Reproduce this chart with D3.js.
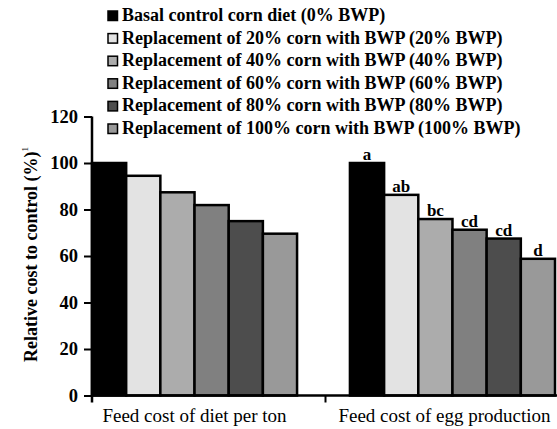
<!DOCTYPE html>
<html lang="en">
<head>
<meta charset="UTF-8">
<title>Relative cost to control</title>
<style>
  body { margin: 0; background: #fff; }
  svg text { font-family: "Liberation Serif", "Times New Roman", serif; fill: #000; }
</style>
</head>
<body>
<svg id="chart"></svg>
<script src="https://d3js.org/d3.v7.min.js"></script>
<script>
const categories = ['Feed cost of diet per ton', 'Feed cost of egg production'];
const treatments = ['0% BWP', '20% BWP', '40% BWP', '60% BWP', '80% BWP', '100% BWP'];
const legendLabels = [
  'Basal control corn diet (0% BWP)',
  'Replacement of 20% corn with BWP (20% BWP)',
  'Replacement of 40% corn with BWP (40% BWP)',
  'Replacement of 60% corn with BWP (60% BWP)',
  'Replacement of 80% corn with BWP (80% BWP)',
  'Replacement of 100% corn with BWP (100% BWP)'
];
const dietCost = [100, 94.5, 87.4, 81.9, 75, 69.6];
const eggCost = [100, 86.3, 75.9, 71.3, 67.5, 58.8];
const eggLetters = ['a', 'ab', 'bc', 'cd', 'cd', 'd'];
const yTicks = [0, 20, 40, 60, 80, 100, 120];
const colors = ['#000000', '#e3e3e3', '#acacac', '#808080', '#4d4d4d', '#999999'];

const width = 557, height = 429;
const svg = d3.select('#chart').attr('width', width).attr('height', height);

const x0 = d3.scaleBand().domain(categories).range([92, 555]).paddingInner(0.205).paddingOuter(0);
const x1 = d3.scaleBand().domain(treatments).range([0, x0.bandwidth()]);
const y = d3.scaleLinear().domain([0, 120]).range([395.5, 116.5]);

const series = [dietCost, eggCost];

// bars
categories.forEach((cat, ci) => {
  const g = svg.append('g').attr('transform', `translate(${x0(cat)},0)`);
  g.selectAll('rect')
    .data(series[ci])
    .enter().append('rect')
    .attr('x', (d, i) => x1(treatments[i]))
    .attr('y', d => y(d))
    .attr('width', x1.bandwidth())
    .attr('height', d => y(0) - y(d))
    .attr('fill', (d, i) => colors[i])
    .attr('stroke', '#000')
    .attr('stroke-width', 2.5);
});

// significance letters
svg.append('g').selectAll('text')
  .data(eggCost)
  .enter().append('text')
  .attr('x', (d, i) => x0(categories[1]) + x1(treatments[i]) + x1.bandwidth() / 2)
  .attr('y', d => y(d) - 3)
  .attr('text-anchor', 'middle')
  .attr('font-size', 17)
  .attr('font-weight', 'bold')
  .text((d, i) => eggLetters[i]);

// y axis
const yAxis = svg.append('g')
  .attr('transform', 'translate(92,0)')
  .call(d3.axisLeft(y).tickValues(yTicks).tickSize(8).tickPadding(6));
yAxis.select('.domain').attr('stroke', '#000').attr('stroke-width', 2.5)
  .attr('d', `M0,${y(120)}V${y(0) + 7}`);
yAxis.selectAll('.tick line').attr('stroke-width', 2);
yAxis.selectAll('.tick text')
  .attr('font-size', 18.5).attr('font-weight', 'bold')
  .attr('font-family', '"Liberation Serif", serif');

// x axis
const xAxis = svg.append('g').attr('transform', `translate(0,${y(0)})`);
xAxis.append('line')
  .attr('x1', 92).attr('x2', width)
  .attr('stroke', '#000').attr('stroke-width', 2.5);
const boundary = (x0(categories[0]) + x0.bandwidth() + x0(categories[1])) / 2 + 2;
xAxis.append('line')
  .attr('x1', boundary).attr('x2', boundary)
  .attr('y1', 0).attr('y2', 7)
  .attr('stroke', '#000').attr('stroke-width', 2);
xAxis.selectAll('.cat')
  .data(categories)
  .enter().append('text')
  .attr('class', 'cat')
  .attr('x', (d, i) => x0(d) + x0.bandwidth() / 2 - (i === 1 ? 8 : 0))
  .attr('y', 26)
  .attr('text-anchor', 'middle')
  .attr('font-size', 19)
  .text(d => d);

// y title
const yTitle = svg.append('text')
  .attr('transform', 'translate(37,362) rotate(-90)')
  .attr('text-anchor', 'start')
  .attr('font-size', 18)
  .attr('font-weight', 'bold');
yTitle.append('tspan').text('Relative cost to control (%)');
yTitle.append('tspan').attr('font-size', 9).attr('dy', -9).attr('font-weight', 'normal').text('1');

// legend
const legend = svg.append('g').selectAll('g')
  .data(legendLabels)
  .enter().append('g')
  .attr('transform', (d, i) => `translate(108,${21 + i * 22.6})`);
legend.append('rect')
  .attr('x', 0).attr('y', -10)
  .attr('width', 9.5).attr('height', 9.5)
  .attr('fill', (d, i) => colors[i])
  .attr('stroke', '#000').attr('stroke-width', 1.5);
legend.append('text')
  .attr('x', 14).attr('y', 0)
  .attr('font-size', 18)
  .attr('font-weight', 'bold')
  .text(d => d);
</script>
</body>
</html>
